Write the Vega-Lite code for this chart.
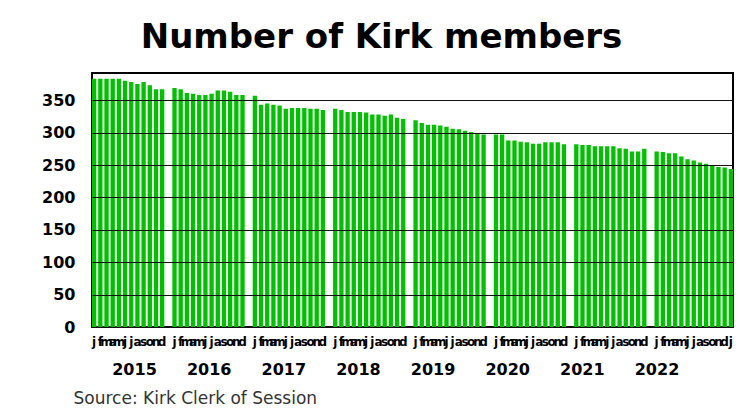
{
  "$schema": "https://vega.github.io/schema/vega-lite/v6.json",
  "width": 641,
  "height": 254,
  "autosize": {"type": "none"},
  "padding": {"left": 92, "top": 73, "right": 19, "bottom": 87},
  "background": "white",
  "title": {
    "text": "Number of Kirk members",
    "font": "DejaVu Sans",
    "fontSize": 34,
    "fontWeight": "bold",
    "color": "black",
    "anchor": "middle",
    "frame": "group",
    "baseline": "alphabetic",
    "offset": 24,
    "dy": 33,
    "dx": -31
  },
  "config": {
    "view": {"stroke": "black", "strokeWidth": 2},
    "font": "DejaVu Sans"
  },
  "data": {
    "values": [
      {"month": "2015-01", "year": "2015", "members": 383},
      {"month": "2015-02", "year": "2015", "members": 383},
      {"month": "2015-03", "year": "2015", "members": 383},
      {"month": "2015-04", "year": "2015", "members": 383},
      {"month": "2015-05", "year": "2015", "members": 383},
      {"month": "2015-06", "year": "2015", "members": 380},
      {"month": "2015-07", "year": "2015", "members": 378},
      {"month": "2015-08", "year": "2015", "members": 375},
      {"month": "2015-09", "year": "2015", "members": 378},
      {"month": "2015-10", "year": "2015", "members": 373},
      {"month": "2015-11", "year": "2015", "members": 367},
      {"month": "2015-12", "year": "2015", "members": 367},
      {"month": "2016-01", "year": "2016", "members": 369},
      {"month": "2016-02", "year": "2016", "members": 367},
      {"month": "2016-03", "year": "2016", "members": 361},
      {"month": "2016-04", "year": "2016", "members": 360},
      {"month": "2016-05", "year": "2016", "members": 358},
      {"month": "2016-06", "year": "2016", "members": 358},
      {"month": "2016-07", "year": "2016", "members": 360},
      {"month": "2016-08", "year": "2016", "members": 365},
      {"month": "2016-09", "year": "2016", "members": 365},
      {"month": "2016-10", "year": "2016", "members": 363},
      {"month": "2016-11", "year": "2016", "members": 358},
      {"month": "2016-12", "year": "2016", "members": 358},
      {"month": "2017-01", "year": "2017", "members": 357},
      {"month": "2017-02", "year": "2017", "members": 343},
      {"month": "2017-03", "year": "2017", "members": 345},
      {"month": "2017-04", "year": "2017", "members": 343},
      {"month": "2017-05", "year": "2017", "members": 342},
      {"month": "2017-06", "year": "2017", "members": 337},
      {"month": "2017-07", "year": "2017", "members": 338},
      {"month": "2017-08", "year": "2017", "members": 338},
      {"month": "2017-09", "year": "2017", "members": 338},
      {"month": "2017-10", "year": "2017", "members": 337},
      {"month": "2017-11", "year": "2017", "members": 337},
      {"month": "2017-12", "year": "2017", "members": 335},
      {"month": "2018-01", "year": "2018", "members": 337},
      {"month": "2018-02", "year": "2018", "members": 335},
      {"month": "2018-03", "year": "2018", "members": 332},
      {"month": "2018-04", "year": "2018", "members": 332},
      {"month": "2018-05", "year": "2018", "members": 332},
      {"month": "2018-06", "year": "2018", "members": 331},
      {"month": "2018-07", "year": "2018", "members": 328},
      {"month": "2018-08", "year": "2018", "members": 328},
      {"month": "2018-09", "year": "2018", "members": 326},
      {"month": "2018-10", "year": "2018", "members": 328},
      {"month": "2018-11", "year": "2018", "members": 323},
      {"month": "2018-12", "year": "2018", "members": 321},
      {"month": "2019-01", "year": "2019", "members": 319},
      {"month": "2019-02", "year": "2019", "members": 315},
      {"month": "2019-03", "year": "2019", "members": 312},
      {"month": "2019-04", "year": "2019", "members": 312},
      {"month": "2019-05", "year": "2019", "members": 311},
      {"month": "2019-06", "year": "2019", "members": 309},
      {"month": "2019-07", "year": "2019", "members": 306},
      {"month": "2019-08", "year": "2019", "members": 305},
      {"month": "2019-09", "year": "2019", "members": 303},
      {"month": "2019-10", "year": "2019", "members": 301},
      {"month": "2019-11", "year": "2019", "members": 299},
      {"month": "2019-12", "year": "2019", "members": 297},
      {"month": "2020-01", "year": "2020", "members": 297},
      {"month": "2020-02", "year": "2020", "members": 297},
      {"month": "2020-03", "year": "2020", "members": 288},
      {"month": "2020-04", "year": "2020", "members": 288},
      {"month": "2020-05", "year": "2020", "members": 286},
      {"month": "2020-06", "year": "2020", "members": 285},
      {"month": "2020-07", "year": "2020", "members": 283},
      {"month": "2020-08", "year": "2020", "members": 283},
      {"month": "2020-09", "year": "2020", "members": 285},
      {"month": "2020-10", "year": "2020", "members": 285},
      {"month": "2020-11", "year": "2020", "members": 285},
      {"month": "2020-12", "year": "2020", "members": 282},
      {"month": "2021-01", "year": "2021", "members": 282},
      {"month": "2021-02", "year": "2021", "members": 281},
      {"month": "2021-03", "year": "2021", "members": 281},
      {"month": "2021-04", "year": "2021", "members": 279},
      {"month": "2021-05", "year": "2021", "members": 279},
      {"month": "2021-06", "year": "2021", "members": 279},
      {"month": "2021-07", "year": "2021", "members": 279},
      {"month": "2021-08", "year": "2021", "members": 276},
      {"month": "2021-09", "year": "2021", "members": 275},
      {"month": "2021-10", "year": "2021", "members": 271},
      {"month": "2021-11", "year": "2021", "members": 271},
      {"month": "2021-12", "year": "2021", "members": 275},
      {"month": "2022-01", "year": "2022", "members": 271},
      {"month": "2022-02", "year": "2022", "members": 270},
      {"month": "2022-03", "year": "2022", "members": 268},
      {"month": "2022-04", "year": "2022", "members": 268},
      {"month": "2022-05", "year": "2022", "members": 263},
      {"month": "2022-06", "year": "2022", "members": 259},
      {"month": "2022-07", "year": "2022", "members": 257},
      {"month": "2022-08", "year": "2022", "members": 254},
      {"month": "2022-09", "year": "2022", "members": 252},
      {"month": "2022-10", "year": "2022", "members": 250},
      {"month": "2022-11", "year": "2022", "members": 247},
      {"month": "2022-12", "year": "2022", "members": 246},
      {"month": "2023-01", "year": "2023", "members": 244}
    ]
  },
  "layer": [
    {
      "mark": {"type": "bar", "color": "#00c000"},
      "encoding": {
        "x": {
          "field": "month",
          "type": "ordinal",
          "scale": {
            "domain": [
              "2015-01","2015-02","2015-03","2015-04","2015-05","2015-06","2015-07","2015-08","2015-09","2015-10","2015-11","2015-12","2015-gap",
              "2016-01","2016-02","2016-03","2016-04","2016-05","2016-06","2016-07","2016-08","2016-09","2016-10","2016-11","2016-12","2016-gap",
              "2017-01","2017-02","2017-03","2017-04","2017-05","2017-06","2017-07","2017-08","2017-09","2017-10","2017-11","2017-12","2017-gap",
              "2018-01","2018-02","2018-03","2018-04","2018-05","2018-06","2018-07","2018-08","2018-09","2018-10","2018-11","2018-12","2018-gap",
              "2019-01","2019-02","2019-03","2019-04","2019-05","2019-06","2019-07","2019-08","2019-09","2019-10","2019-11","2019-12","2019-gap",
              "2020-01","2020-02","2020-03","2020-04","2020-05","2020-06","2020-07","2020-08","2020-09","2020-10","2020-11","2020-12","2020-gap",
              "2021-01","2021-02","2021-03","2021-04","2021-05","2021-06","2021-07","2021-08","2021-09","2021-10","2021-11","2021-12","2021-gap",
              "2022-01","2022-02","2022-03","2022-04","2022-05","2022-06","2022-07","2022-08","2022-09","2022-10","2022-11","2022-12","2023-01"
            ],
            "paddingInner": 0.3,
            "paddingOuter": 0
          },
          "axis": {
            "orient": "bottom",
            "domain": false,
            "grid": false,
            "zindex": 1,
            "labelAngle": 0,
            "labelOverlap": false,
            "labelFont": "DejaVu Sans",
            "labelFontSize": 12,
            "labelFontWeight": "bold",
            "labelColor": "black",
            "labelBaseline": "top",
            "labelPadding": 9,
            "ticks": false,
            "labelExpr": "length(datum.value) > 7 ? '' : substring('jfmamjjasond', toNumber(substring(datum.value, 5, 7)) - 1, toNumber(substring(datum.value, 5, 7)))",
            "title": "Source: Kirk Clerk of Session",
            "titleFont": "DejaVu Sans",
            "titleFontSize": 17,
            "titleFontWeight": "normal",
            "titleColor": "#333333",
            "titleAnchor": "start",
            "titleAlign": "left",
            "titleBaseline": "alphabetic",
            "titleX": -19,
            "titleY": 76
          }
        },
        "y": {
          "field": "members",
          "type": "quantitative",
          "scale": {"domain": [0, 392], "nice": false},
          "axis": {
            "title": null,
            "values": [0, 50, 100, 150, 200, 250, 300, 350],
            "domain": false,
            "ticks": false,
            "grid": true,
            "gridColor": "#111111",
            "gridWidth": 1,
            "zindex": 1,
            "labelFont": "DejaVu Sans",
            "labelFontSize": 16,
            "labelFontWeight": "bold",
            "labelColor": "black",
            "labelPadding": 17
          }
        }
      }
    },
    {
      "transform": [{"filter": "datum.year <= '2022' && datum.month == datum.year + '-01'"}],
      "mark": {
        "type": "text",
        "font": "DejaVu Sans",
        "fontSize": 16,
        "fontWeight": "bold",
        "color": "black",
        "baseline": "alphabetic",
        "dy": 48
      },
      "encoding": {
        "x": {
          "field": "year",
          "type": "ordinal",
          "scale": {"type": "point", "range": [42.5, 565], "padding": 0},
          "axis": null
        },
        "y": {
          "datum": 0,
          "type": "quantitative",
          "axis": {
            "title": null,
            "values": [0, 50, 100, 150, 200, 250, 300, 350],
            "domain": false,
            "ticks": false,
            "grid": true,
            "gridColor": "#111111",
            "gridWidth": 1,
            "zindex": 1,
            "labelFont": "DejaVu Sans",
            "labelFontSize": 16,
            "labelFontWeight": "bold",
            "labelColor": "black",
            "labelPadding": 17
          }
        },
        "text": {"field": "year"}
      }
    }
  ],
  "resolve": {"scale": {"x": "independent"}}
}
